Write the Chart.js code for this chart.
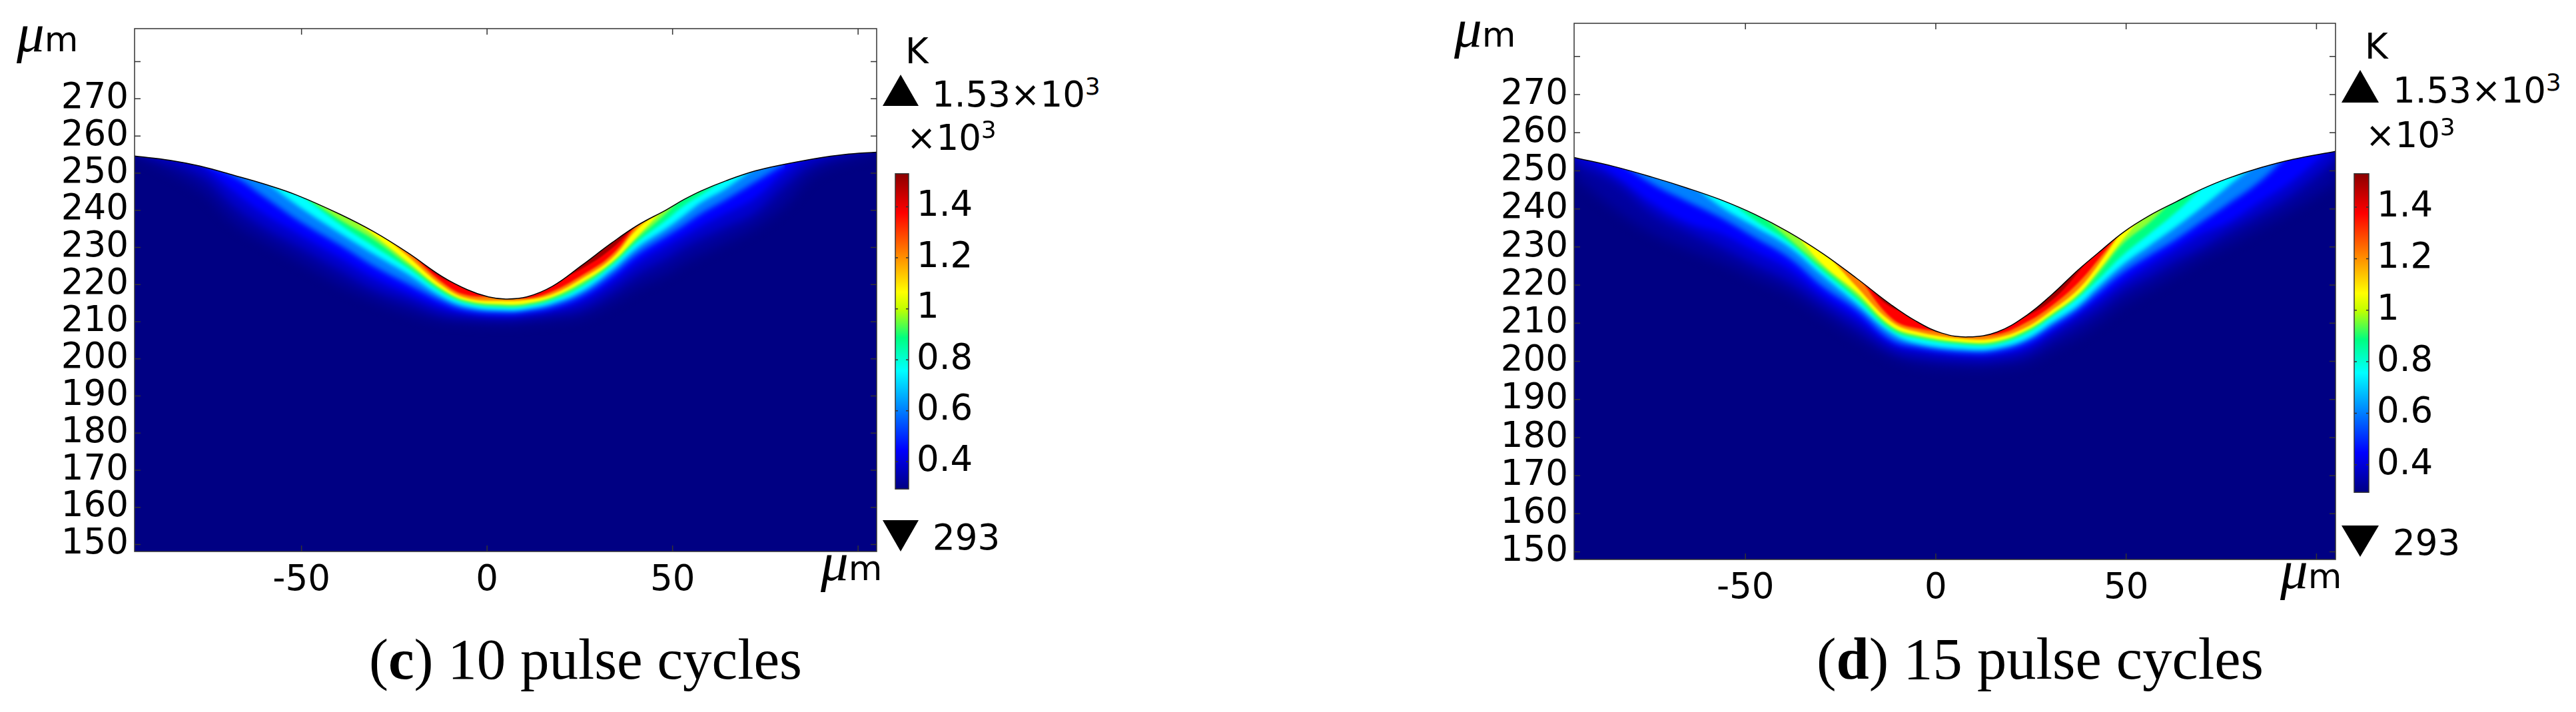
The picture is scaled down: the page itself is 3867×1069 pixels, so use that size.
<!DOCTYPE html>
<html>
<head>
<meta charset="utf-8">
<title>Temperature field, 10 and 15 pulse cycles</title>
<script src="https://cdn.jsdelivr.net/npm/chart.js@4/dist/chart.umd.min.js"></script>
<style>
  html, body { margin: 0; background: #fff; }
  #page { position: relative; width: 3867px; height: 1069px; overflow: hidden; }
  canvas { position: absolute; }
  .txt { position: absolute; white-space: nowrap; color: #000; line-height: 1; font-family: "DejaVu Sans"; }
  .txt i { font-family: "Liberation Serif"; font-size: 1.6em; line-height: 0; }
  .txt span { position: relative; font-size: 0.68em; top: -0.5em; }
  .cap { font-family: "Liberation Serif"; }
  .tri { position: absolute; width: 0; height: 0; border-style: solid; border-color: transparent; }
</style>
</head>
<body>
<div id="page"></div>
<script>
// axis ticks, shared by both panels
const xTicks = [-50, 0, 50, 100]
const xTickLabels = ['-50', '0', '50', '']
const yTicks = [150, 160, 170, 180, 190, 200, 210, 220, 230, 240, 250, 260, 270, 280]
const yTickLabels = ['150', '160', '170', '180', '190', '200', '210', '220', '230', '240', '250', '260', '270', '']
const barTicks = [0.4, 0.6, 0.8, 1, 1.2, 1.4]
const barTickLabels = ['0.4', '0.6', '0.8', '1', '1.2', '1.4']
const tempMin = 0.293
const tempMax = 1.53

// colour scale of the bar
const barStops = [0, 0.125, 0.375, 0.48, 0.57, 0.625, 0.875, 1]
const barColors = ['#000083', '#0000ff', '#00ffff', '#00ff80', '#c0ff00', '#ffff00', '#ff0000', '#8c0000']

// colours of the temperature bands, coldest first
const bandColors = ['#0000a0', '#0000d0', '#0000ff', '#0080ff', '#00ffff', '#00ff80', '#90ff30', '#ffff00', '#ff8000', '#ff0000', '#a00000']
const bandBlur = [9, 7, 5, 4, 3, 2.5, 2, 1.5, 1.5, 1.5, 1]

// (c) 10 pulse cycles: ablated surface
const surfaceXc = [-95, -85.4, -77.4, -68.2, -60.2, -51.1, -39.6, -30.5, -21.3, -12.2, -5.3, 0.4, 5, 10.7, 17.6, 25.6, 33.6, 40.5, 48.3, 53.1, 57.9, 64.3, 72.3, 80.3, 88.3, 96.3, 105]
const surfaceYc = [254.6, 253.45, 251.9, 249.4, 247.1, 244, 238.9, 234.2, 228.5, 222.2, 218.6, 216.65, 216.1, 216.65, 219.5, 225.2, 231.2, 235.9, 240.1, 242.9, 245.3, 247.9, 250.6, 252.4, 253.9, 255, 255.65]

// (c) isotherms, lower edge of each band
const stationsC = [-95, -77.4, -68.2, -60.2, -51.1, -39.6, -30.5, -21.3, -12.2, -5.3, 5, 10.7, 17.6, 25.6, 33.6, 40.5, 48.3, 53.1, 57.9, 64.3, 72.3, 80.3, 88.3, 105]
const bandNc = [255.4, 245.8, 236.8, 231.8, 226.7, 220.1, 215.9, 212.6, 210.3, 209.8, 209.4, 209.8, 210.4, 211.5, 215.3, 219.5, 223.1, 226.1, 228.5, 231.5, 235.6, 241.6, 250, 256]
const bandDkc = [256, 249.7, 241.3, 235.6, 230.6, 224, 218.9, 215.6, 212.2, 211.3, 210.9, 211.3, 212.2, 213.8, 218.3, 223.1, 227.3, 230.3, 232.7, 235.6, 239.5, 247, 253, 257]
const bandBc = [null, 253, 245.2, 239.2, 233.9, 227.3, 221.9, 217.7, 214, 212.4, 211.7, 212.2, 213.3, 215.9, 220.8, 226.1, 230.6, 233.3, 236, 239.2, 243.4, 250.6, 256, null]
const bandAzc = [null, 253, 249.1, 243.7, 237.4, 230.6, 224.9, 220.1, 215.5, 213.2, 212.5, 212.9, 214.1, 217.1, 222.5, 228.2, 233, 236, 239.2, 242.8, 247.6, 252.5, null, null]
const bandCc = [null, null, null, 248, 241.3, 233.8, 228.2, 222.8, 216.8, 214.1, 213.1, 213.5, 215, 218.3, 224, 230, 235.1, 238.6, 242.2, 245.8, 251.5, null, null, null]
const bandSc = [null, null, null, null, 245, 236.2, 230.3, 224.4, 217.9, 215, 213.9, 214.3, 215.8, 219.5, 225.2, 231.5, 237.4, 241.3, 244.3, 248.5, null, null, null, null]
const bandGc = [null, null, null, null, 245, 237.4, 232.1, 225.3, 218.5, 215.3, 214.3, 214.6, 216.3, 220.1, 225.7, 232.4, 239.2, 244, null, null, null, null, null, null]
const bandYc = [null, null, null, null, null, 240, 233.3, 226.1, 218.9, 215.7, 214.7, 215, 216.7, 220.7, 226.1, 233, 241, null, null, null, null, null, null, null]
const bandOc = [null, null, null, null, null, null, 235.5, 227.6, 219.8, 216.3, 215.6, 215.9, 217.4, 221.6, 227, 235, 241, null, null, null, null, null, null, null]
const bandRc = [null, null, null, null, null, null, null, 229.1, 220.7, 217.1, 217, 216.3, 218.2, 222.5, 228, 236.5, null, null, null, null, null, null, null, null]
const bandHc = [null, null, null, null, null, null, null, 229.5, 221.8, 219.5, null, null, 220.5, 224.3, 229.7, 236.5, null, null, null, null, null, null, null, null]

// (d) 15 pulse cycles: ablated surface
const surfaceXd = [-95, -84.4, -74.4, -65.4, -56.5, -47.6, -38.6, -29.7, -20.8, -11.8, -5.1, 1.6, 8.5, 16.1, 23.9, 30.6, 37.3, 42.6, 49.3, 56.2, 63, 69.9, 76.7, 85.3, 93.8, 105]
const surfaceYd = [253.5, 251.1, 248.3, 245.5, 242.4, 238.6, 233.9, 228.3, 221.8, 214.9, 210.5, 207.4, 206.4, 207.7, 212.1, 217.6, 223.9, 228.4, 233.9, 238.3, 241.8, 245.2, 248, 250.8, 253, 255.1]

// (d) isotherms
const stationsD = [-95, -84.4, -74.4, -65.4, -56.5, -47.6, -38.6, -29.7, -20.8, -11.8, -5.1, 8.5, 16.1, 23.9, 30.6, 37.3, 42.6, 49.3, 56.2, 63, 69.9, 76.7, 85.3, 93.8, 105]
const bandNd = [248.8, 240, 233.6, 229.6, 226.1, 222, 217.9, 212.1, 206.3, 201.3, 199.3, 198.3, 198.6, 199.8, 203.3, 206.8, 210.3, 215.3, 219.1, 223.1, 227.2, 230.7, 235.4, 240, 247]
const bandDkd = [252.3, 247, 238.9, 234.2, 230.1, 225.5, 221.1, 215, 209.2, 203.1, 201.4, 200.2, 200.5, 202.2, 206.3, 210.3, 213.8, 218.8, 222.6, 226.6, 230.1, 234.2, 238.9, 244.1, 252.9]
const bandBd = [255, 249, 241.5, 236.5, 233.6, 229, 224.3, 217.3, 211.5, 204.8, 203.2, 201.8, 202.1, 203.9, 208, 212.4, 216.1, 221.1, 225.5, 229.6, 233.6, 236.5, 242, 247.5, 257]
const bandAzd = [null, 253, 246.5, 242, 237.7, 232.5, 227.2, 219.6, 213.5, 205.8, 203.9, 202.4, 202.8, 205.1, 209.2, 213.5, 217.9, 223.4, 227.8, 231.9, 236.6, 241.2, 247.3, 255.5, null]
const bandCd = [null, null, 250.5, 247, 240.6, 235.4, 230.1, 222.5, 215.2, 207.6, 204.8, 203.2, 203.6, 206, 210.3, 214.7, 219.6, 225.5, 230.4, 235.2, 240.4, 245.9, 252.5, null, null]
const bandSd = [null, null, null, null, 244, 237.1, 231.3, 223.7, 216.4, 208.3, 206.1, 204.3, 204.6, 207.4, 211.8, 216.7, 221.4, 228, 233.5, 239, 245.5, null, null, null, null]
const bandGd = [null, null, null, null, null, 240, 232.2, 224.6, 217.3, 209, 206.5, 204.7, 205, 207.9, 212.2, 217.1, 222.9, 231, 236.5, 243, null, null, null, null, null]
const bandYd = [null, null, null, null, null, null, 235.5, 225.5, 218.2, 209.4, 207, 205, 205.4, 208.3, 212.6, 217.6, 223.7, 232.2, 240, null, null, null, null, null, null]
const bandOd = [null, null, null, null, null, null, null, 229.5, 219.6, 210.5, 207.8, 205.8, 206.2, 209, 213.5, 218.8, 225.2, 235, null, null, null, null, null, null, null]
const bandRd = [null, null, null, null, null, null, null, null, 223, 211.5, 208.7, 207.5, 207.1, 210.3, 214.7, 220.5, 226.6, 235, null, null, null, null, null, null, null]
const bandHd = [null, null, null, null, null, null, null, null, 223, 214.3, 213, null, 209, 211.9, 216.1, 223.2, 230.5, null, null, null, null, null, null, null, null]

const page = document.getElementById('page')

function addCanvas(left, top, width, height) {
    const c = document.createElement('canvas')
    c.width = width
    c.height = height
    c.style.left = left + 'px'
    c.style.top = top + 'px'
    c.style.width = width + 'px'
    c.style.height = height + 'px'
    page.appendChild(c)
    return c
}

// baseline is given because the labels were measured that way
function addText(html, x, baseline, size, cls) {
    const d = document.createElement('div')
    d.className = 'txt' + (cls ? ' ' + cls : '')
    d.innerHTML = html
    d.style.left = x + 'px'
    d.style.top = (baseline - (cls ? 0.8375 : 0.846) * size) + 'px'
    d.style.fontSize = size + 'px'
    page.appendChild(d)
}

function addTriangle(x0, x1, y0, y1, up) {
    const d = document.createElement('div')
    d.className = 'tri'
    d.style.left = x0 + 'px'
    d.style.top = y0 + 'px'
    d.style.borderWidth = up
        ? `0 ${(x1 - x0) / 2}px ${y1 - y0}px`
        : `${y1 - y0}px ${(x1 - x0) / 2}px 0`
    d.style[up ? 'borderBottomColor' : 'borderTopColor'] = '#000'
    page.appendChild(d)
}

// Filler paints in its own beforeDatasetDraw, so the blur has to be set before that hook
function setBlur(chart, index) {
    const ds = chart.data.datasets[index]
    chart.ctx.filter = ds && ds.blur ? `blur(${ds.blur}px)` : 'none'
}

const softBands = {
    id: 'softBands',
    beforeDatasetsDraw(chart) {
        const a = chart.chartArea
        chart.ctx.fillStyle = '#000083'
        chart.ctx.fillRect(a.left, a.top, a.width, a.height)
        setBlur(chart, chart.data.datasets.length - 1)
    },
    afterDatasetDraw(chart, args) {
        setBlur(chart, args.index - 1)
    },
    afterDatasetsDraw(chart) {
        chart.ctx.filter = 'none'
    }
}

// ticks point inwards on all sides, and the frame sits on top of the field
function insideTicks(len) {
    return {
        id: 'insideTicks',
        afterDraw(chart) {
            const { ctx, chartArea: a, scales } = chart
            ctx.save()
            ctx.strokeStyle = '#333'
            ctx.lineWidth = 1.5
            ctx.beginPath()
            scales.y.ticks.forEach(t => {
                const p = scales.y.getPixelForValue(t.value)
                ctx.moveTo(a.left, p)
                ctx.lineTo(a.left + len, p)
                ctx.moveTo(a.right, p)
                ctx.lineTo(a.right - len, p)
            })
            if (scales.x.options.display) {
                scales.x.ticks.forEach(t => {
                    const p = scales.x.getPixelForValue(t.value)
                    ctx.moveTo(p, a.top)
                    ctx.lineTo(p, a.top + len)
                    ctx.moveTo(p, a.bottom)
                    ctx.lineTo(p, a.bottom - len)
                })
            }
            ctx.stroke()
            ctx.strokeRect(a.left, a.top, a.width, a.height)
            ctx.restore()
        }
    }
}

function drawField(box, plot, surfaceX, surfaceY, stations, bands) {
    const canvas = addCanvas(box.left, box.top, box.width, box.height)
    const font = { family: 'DejaVu Sans', size: 53 }

    const surface = {
        data: surfaceX.map((x, i) => ({ x, y: surfaceY[i] })),
        borderColor: '#000',
        borderWidth: 1.5,
        backgroundColor: '#fff',
        fill: 'end',
        pointRadius: 0,
        tension: 0.4
    }

    // drawn last index first, so the coldest band goes at the end
    const isotherms = bands.map((vals, i) => ({
        data: stations.map((x, k) => ({ x, y: vals[k] })),
        backgroundColor: bandColors[i],
        blur: bandBlur[i],
        fill: 'end',
        borderWidth: 0,
        pointRadius: 0,
        tension: 0.4
    })).reverse()

    new Chart(canvas, {
        type: 'line',
        data: { datasets: [surface, ...isotherms] },
        options: {
            responsive: false,
            animation: false,
            layout: {
                padding: {
                    top: plot.top - box.top,
                    right: box.left + box.width - plot.right,
                    bottom: 0,
                    left: 0
                }
            },
            plugins: { legend: { display: false }, tooltip: { enabled: false } },
            scales: {
                x: {
                    type: 'linear',
                    min: -95,
                    max: 105,
                    grid: { display: false },
                    border: { display: false },
                    afterFit: s => { s.height = box.top + box.height - plot.bottom },
                    afterBuildTicks: s => { s.ticks = xTicks.map(value => ({ value })) },
                    ticks: {
                        font,
                        color: '#000',
                        padding: 4,
                        maxRotation: 0,
                        autoSkip: false,
                        callback: v => xTickLabels[xTicks.indexOf(v)]
                    }
                },
                y: {
                    min: plot.yMin,
                    max: plot.yMax,
                    grid: { display: false },
                    border: { display: false },
                    afterFit: s => { s.width = plot.left - box.left },
                    afterBuildTicks: s => { s.ticks = yTicks.map(value => ({ value })) },
                    ticks: {
                        font,
                        color: '#000',
                        padding: 1,
                        autoSkip: false,
                        callback: v => yTickLabels[yTicks.indexOf(v)]
                    }
                }
            }
        },
        plugins: [softBands, insideTicks(9)]
    })
}

function drawColorBar(box, bar) {
    const canvas = addCanvas(box.left, box.top, box.width, box.height)

    new Chart(canvas, {
        type: 'bar',
        data: {
            labels: ['T'],
            datasets: [{
                data: [[tempMin, tempMax]],
                barPercentage: 1,
                categoryPercentage: 1,
                backgroundColor(ctx) {
                    const { chart } = ctx
                    if (!chart.chartArea) return '#000083'
                    const y = chart.scales.y
                    const g = chart.ctx.createLinearGradient(0, y.getPixelForValue(tempMin), 0, y.getPixelForValue(tempMax))
                    barStops.forEach((s, i) => g.addColorStop(s, barColors[i]))
                    return g
                }
            }]
        },
        options: {
            responsive: false,
            animation: false,
            layout: {
                padding: {
                    top: bar.top - box.top,
                    bottom: box.top + box.height - bar.bottom,
                    left: bar.left - box.left,
                    right: 0
                }
            },
            plugins: { legend: { display: false }, tooltip: { enabled: false } },
            scales: {
                x: { display: false },
                y: {
                    position: 'right',
                    min: tempMin,
                    max: tempMax,
                    grid: { display: false },
                    border: { display: false },
                    afterFit: s => { s.width = box.left + box.width - bar.right },
                    afterBuildTicks: s => { s.ticks = barTicks.map(value => ({ value })) },
                    ticks: {
                        font: { family: 'DejaVu Sans', size: 53 },
                        color: '#000',
                        padding: 4,
                        autoSkip: false,
                        callback: v => barTickLabels[barTicks.indexOf(v)]
                    }
                }
            }
        },
        plugins: [insideTicks(4)]
    })
}

// (c)
drawField(
    { left: 0, top: 0, width: 1330, height: 920 },
    { left: 202, right: 1316, top: 43, bottom: 828, yMin: 148.1, yMax: 288.9 },
    surfaceXc, surfaceYc, stationsC,
    [bandNc, bandDkc, bandBc, bandAzc, bandCc, bandSc, bandGc, bandYc, bandOc, bandRc, bandHc]
)
drawColorBar({ left: 1340, top: 225, width: 130, height: 545 }, { left: 1344, right: 1364, top: 255, bottom: 741 })
addText('<i>μ</i>m', 25, 77, 52)
addText('<i>μ</i>m', 1232, 871, 52)
addText('K', 1359, 95, 53)
addText('1.53×10<span>3</span>', 1399, 160, 53)
addText('×10<span>3</span>', 1361, 225, 53)
addText('293', 1400, 825, 53)
addTriangle(1325, 1380, 112, 159, true)
addTriangle(1325, 1380, 781, 828, false)
addText('(<b>c</b>) 10 pulse cycles', 554, 1019, 87, 'cap')

// (d)
drawField(
    { left: 2160, top: 0, width: 1360, height: 930 },
    { left: 2363, right: 3506, top: 35, bottom: 840, yMin: 148, yMax: 288.7 },
    surfaceXd, surfaceYd, stationsD,
    [bandNd, bandDkd, bandBd, bandAzd, bandCd, bandSd, bandGd, bandYd, bandOd, bandRd, bandHd]
)
drawColorBar({ left: 3530, top: 225, width: 130, height: 550 }, { left: 3534, right: 3556, top: 252, bottom: 749 })
addText('<i>μ</i>m', 2183, 70, 52)
addText('<i>μ</i>m', 3423, 883, 52)
addText('K', 3550, 88, 53)
addText('1.53×10<span>3</span>', 3592, 154, 53)
addText('×10<span>3</span>', 3551, 221, 53)
addText('293', 3592, 833, 53)
addTriangle(3515, 3572, 105, 154, true)
addTriangle(3515, 3572, 789, 836, false)
addText('(<b>d</b>) 15 pulse cycles', 2727, 1019, 88.5, 'cap')
</script>
</body>
</html>
